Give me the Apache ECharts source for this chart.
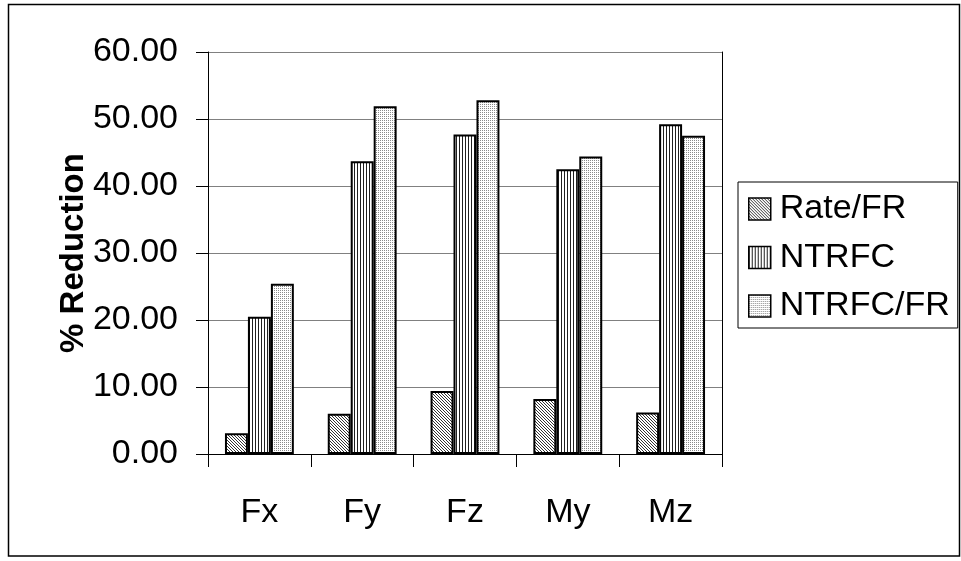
<!DOCTYPE html>
<html>
<head>
<meta charset="utf-8">
<script src="https://cdn.jsdelivr.net/npm/echarts@6/dist/echarts.min.js"></script>
<style>
html,body{margin:0;padding:0;background:#fff;}
#chart{width:961px;height:561px;}
</style>
</head>
<body>
<div id="chart"></div>
<script>
var categories = ['Fx', 'Fy', 'Fz', 'My', 'Mz'];
var seriesNames = ['Rate/FR', 'NTRFC', 'NTRFC/FR'];
var rateFR = [3.1, 6.0, 9.4, 8.2, 6.2];
var ntrfc = [20.5, 43.7, 47.7, 42.5, 49.2];
var ntrfcFR = [25.4, 51.9, 52.8, 44.4, 47.5];
var yTicks = [0, 10, 20, 30, 40, 50, 60];

var FONT = "'Liberation Sans', Arial, sans-serif";

function makePattern(w, h, painter) {
  var c = document.createElement('canvas');
  c.width = w; c.height = h;
  var ctx = c.getContext('2d');
  ctx.fillStyle = '#ffffff';
  ctx.fillRect(0, 0, w, h);
  painter(ctx);
  return { image: c, repeat: 'repeat' };
}
var diagPattern = makePattern(3, 3, function (ctx) {
  ctx.fillStyle = '#333333';
  for (var i = 0; i < 3; i++) ctx.fillRect(i, i, 1, 1);
});
var vertPattern = makePattern(3, 3, function (ctx) {
  ctx.fillStyle = '#202020';
  ctx.fillRect(0, 0, 1, 3);
});
var dotPattern = makePattern(2, 2, function (ctx) {
  ctx.fillStyle = '#8a8a8a';
  ctx.fillRect(0, 0, 1, 1);
});
var patterns = [diagPattern, vertPattern, dotPattern];
var dataSets = [rateFR, ntrfc, ntrfcFR];

var chart = echarts.init(document.getElementById('chart'), null, { renderer: 'canvas' });

var series = seriesNames.map(function (name, i) {
  return {
    name: name,
    type: 'bar',
    xAxisIndex: 0,
    yAxisIndex: 0,
    data: dataSets[i],
    barGap: '0%',
    barCategoryGap: '33%',
    itemStyle: { color: patterns[i], borderColor: '#000', borderWidth: 2 },
    emphasis: { disabled: true },
    animation: false
  };
});

var option = {
  animation: false,
  backgroundColor: '#fff',
  textStyle: { fontFamily: FONT },
  grid: { left: 208, right: 239, top: 52, bottom: 107, containLabel: false },
  legend: {
    orient: 'vertical',
    left: 738,
    top: 182,
    padding: [10, 8, 5, 10],
    itemWidth: 22,
    itemHeight: 22,
    itemGap: 14.5,
    icon: 'rect',
    borderColor: '#000',
    borderWidth: 1,
    backgroundColor: '#fff',
    itemStyle: { borderColor: '#000', borderWidth: 1.5 },
    textStyle: { fontFamily: FONT, fontSize: 34, color: '#000', padding: [0, 0, 0, 4] },
    data: seriesNames
  },
  xAxis: [{
    type: 'category',
    data: categories,
    boundaryGap: true,
    axisLine: { show: true, lineStyle: { color: '#000', width: 1 } },
    axisTick: { show: true, length: 13, alignWithLabel: false, lineStyle: { color: '#000' } },
    axisLabel: { fontFamily: FONT, fontSize: 34, color: '#000', margin: 42 },
    splitLine: { show: false }
  }, {
    type: 'category',
    data: categories,
    position: 'top',
    axisLine: { show: true, lineStyle: { color: '#000', width: 1 } },
    axisTick: { show: false },
    axisLabel: { show: false },
    splitLine: { show: false }
  }],
  yAxis: [{
    type: 'value',
    min: yTicks[0],
    max: yTicks[yTicks.length - 1],
    interval: 10,
    name: '% Reduction',
    nameLocation: 'middle',
    nameGap: 118,
    nameMoveOverlap: false,
    nameTextStyle: { fontFamily: FONT, fontSize: 33, fontWeight: 'bold', color: '#000' },
    axisLine: { show: true, lineStyle: { color: '#000', width: 1 } },
    axisTick: { show: true, length: 12, lineStyle: { color: '#000' } },
    axisLabel: {
      fontFamily: FONT, fontSize: 34, color: '#000', margin: 30,
      formatter: function (v) { return v.toFixed(2); }
    },
    splitLine: { show: true, lineStyle: { color: '#808080', width: 1 } }
  }, {
    type: 'value',
    position: 'right',
    min: yTicks[0],
    max: yTicks[yTicks.length - 1],
    interval: 10,
    axisLine: { show: true, lineStyle: { color: '#000', width: 1 } },
    axisTick: { show: false },
    axisLabel: { show: false },
    splitLine: { show: false }
  }],
  series: series,
  graphic: [{
    type: 'rect',
    silent: true,
    z: -1,
    shape: { x: 8.5, y: 4.5, width: 951, height: 551.5 },
    style: { fill: 'none', stroke: '#000', lineWidth: 1.5 }
  }]
};
chart.setOption(option);
</script>
</body>
</html>
